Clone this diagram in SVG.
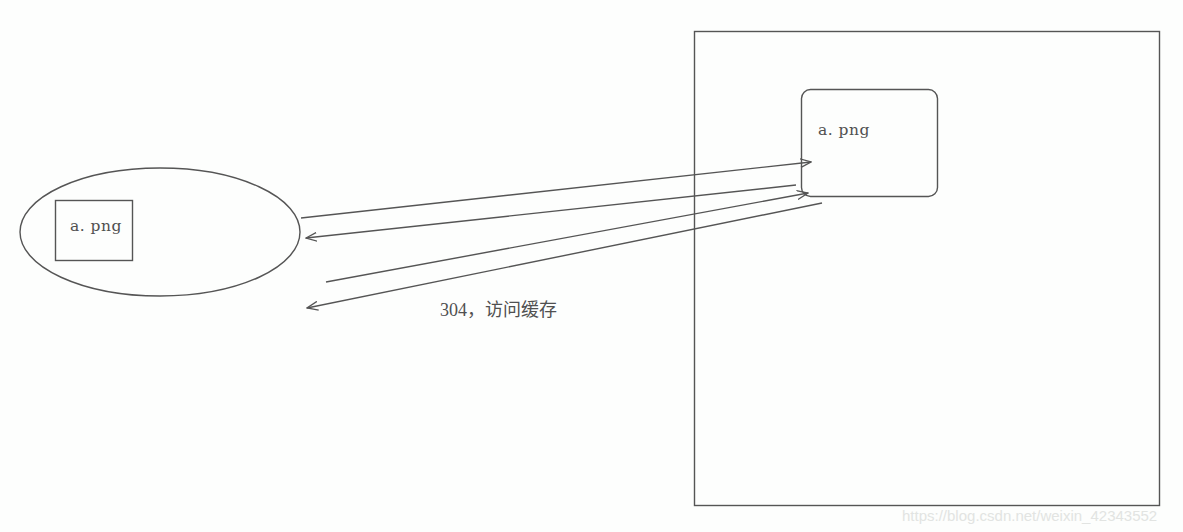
<svg xmlns="http://www.w3.org/2000/svg" width="1183" height="532" viewBox="0 0 1183 532">
<style>
.s{fill:none;stroke:#555;stroke-width:1.4}
.t{font-family:"DejaVu Serif","Liberation Serif",serif;font-size:15.5px;letter-spacing:0.5px;fill:#505050}
.c{font-family:"Liberation Serif","Noto Sans CJK SC",serif;font-size:18px;fill:#505050}
.w{font-family:"Liberation Sans",Arial,sans-serif;font-size:15px;fill:#e2e4e2}
</style>
<defs>
<marker id="a" viewBox="0 0 12 10" refX="11" refY="5" markerWidth="12" markerHeight="10" markerUnits="userSpaceOnUse" orient="auto-start-reverse">
<path d="M0,0.5 L11,5 L0,9.5" fill="none" stroke="#555" stroke-width="1.3"/>
</marker>
</defs>
<rect width="1183" height="532" fill="#fdfefd"/>
<g id="server">
<rect class="s" x="694.5" y="31.5" width="465" height="474"/>
</g>
<g id="server-file">
<rect class="s" x="801.5" y="89.5" width="136" height="107" rx="9"/>
<text class="t" x="818" y="135">a. png</text>
</g>
<g id="browser">
<ellipse class="s" cx="160" cy="232" rx="140" ry="64"/>
</g>
<g id="cache-file">
<rect class="s" x="55.5" y="200.5" width="77" height="60"/>
<text class="t" x="70" y="231">a. png</text>
</g>
<g id="connectors">
<line class="s" x1="301" y1="218" x2="811" y2="162" marker-end="url(#a)"/>
<line class="s" x1="796" y1="185" x2="306" y2="238" marker-end="url(#a)"/>
<line class="s" x1="326" y1="282" x2="808" y2="193" marker-end="url(#a)"/>
<line class="s" x1="822" y1="203" x2="307" y2="308" marker-end="url(#a)"/>
<text class="c" x="440" y="316">304，访问缓存</text>
</g>
<text class="w" x="902" y="521">https://blog.csdn.net/weixin_42343552</text>
</svg>
